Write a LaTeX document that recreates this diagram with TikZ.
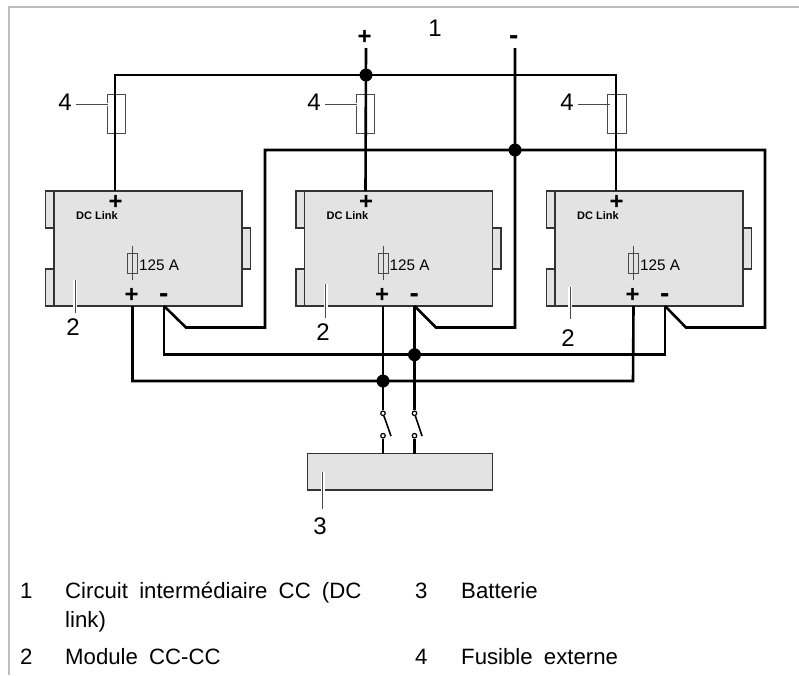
\documentclass[tikz,border=0pt]{standalone}
\usepackage{fontspec}
\setmainfont{Liberation Sans}
\definecolor{boxfill}{HTML}{E3E3E3}
\definecolor{boxline}{HTML}{333333}
\definecolor{framegray}{HTML}{BDBDBD}
\definecolor{leadgray}{HTML}{4A4A4A}
\tikzset{
  wire/.style={line width=2.6pt,black,line join=miter},
  boxpart/.style={draw=boxline,fill=boxfill,line width=1.2pt},
  fusebox/.style={draw=leadgray,line width=1pt},
  dotnode/.style={circle,fill=black,inner sep=0pt,minimum size=13pt},
  term/.style={circle,draw=black,fill=white,line width=1.2pt,inner sep=0pt,minimum size=4.5pt},
  halo/.style={white,line width=4pt},
  leader/.style={leadgray,line width=1pt},
  sign/.style={font=\fontsize{24}{24}\selectfont\bfseries,inner sep=0pt},
  minussign/.style={font=\fontsize{28}{28}\selectfont\bfseries,inner sep=0pt,anchor=base},
  num/.style={font=\fontsize{24}{24}\selectfont,inner sep=0pt},
  leg/.style={font=\fontsize{22.2}{29}\selectfont,inner sep=0pt,anchor=base west,align=left},
  dclink/.style={font=\fontsize{11}{11}\selectfont\bfseries,inner sep=0pt},
  amp/.style={font=\fontsize{15.3}{15.3}\selectfont,inner sep=0pt,anchor=west}
}
\newcommand{\moduleblock}[2]{% x offset, name
  \begin{scope}[shift={(#1,0)}]
    \draw[boxpart] (45.5,191) rectangle (54,228);
    \draw[boxpart] (45.5,269) rectangle (54,306);
    \draw[boxpart] (242,228) rectangle (250.5,269);
    \draw[boxpart] (54,191) rectangle (242,306);
    \node[sign] (#2plustop) at (115.7,202) {+};
    \node[dclink] (#2dc) at (97,216) {DC Link};
    \draw[leadgray,line width=0.8pt] (132.5,246) -- (132.5,280);
    \draw[leadgray,line width=1pt] (127.5,253) rectangle (137.5,273);
    \node[amp] (#2amp) at (139,265) {125 A};
    \node[sign] (#2plus) at (131.7,295.5) {+};
    \node[minussign] (#2minus) at (163.7,302) {-};
    \coordinate (#2a) at (115,191);
    \coordinate (#2b) at (132.5,306);
    \coordinate (#2c) at (164,306);
  \end{scope}}
\begin{document}
\begin{tikzpicture}[x=1pt,y=-1pt]
\useasboundingbox (0,0) rectangle (799,675);
\draw[framegray,line width=1.2pt] (9,675) -- (9,7) -- (799,7);
% modules and battery
\moduleblock{0}{ma}
\moduleblock{250.5}{mb}
\moduleblock{501}{mc}
\node[boxpart,minimum width=185pt,minimum height=36.5pt,inner sep=0pt] (batt) at (399.7,471.7) {};
% fuses
\foreach \n/\x in {fa/106.5,fb/355.5,fc/607}{
  \node[fusebox,minimum width=18.5pt,minimum height=39.5pt,inner sep=0pt,anchor=north west] (\n) at (\x,93.5) {};
}
% junctions
\coordinate (ptop) at (366,48);
\coordinate (mtop) at (515,48);
% + DC link
\draw[wire] (maa) -- (115,75) -- (616,75) -- (mca);
\draw[wire] (ptop) -- (mba);
% - DC link
\draw[wire] (mtop) -- (515,327.5) -- (436,327.5) -- (mbc);
\draw[wire] (mac) -- (186,327.5) -- (265,327.5) -- (265,150) -- (765,150) -- (765,327.5) -- (686,327.5) -- (mcc);
% buses
\draw[wire] (mac) -- (164,354.7) -- (665,354.7) -- (mcc);
\draw[wire] (mab) -- (132.5,381) -- (633,381) -- (mcb);
% switches
\node[term] (s1t) at (383,413.3) {};
\node[term] (s1b) at (383,435.7) {};
\node[term] (s2t) at (414.5,413.3) {};
\node[term] (s2b) at (414.5,435.7) {};
\draw[wire] (mbb) -- (s1t);
\draw[wire] (mbc) -- (s2t);
\draw[wire] (s1b) -- (383,453.5);
\draw[wire] (s2b) -- (414.5,453.5);
\draw[black,line width=1.6pt] (s1t) -- (391,436);
\draw[black,line width=1.6pt] (s2t) -- (422,436);
\node[dotnode] (dplus) at (366,75) {};
\node[dotnode] (dminus) at (515,150) {};
\node[dotnode] (dm) at (414.5,354.7) {};
\node[dotnode] (dp) at (383,381) {};
% signs on top
\node[sign] (sp) at (364.7,37) {+};
\node[minussign] (sm) at (513.7,44) {-};
% numbers
\node[num] (n1) at (435,28) {1};
\foreach \n/\x/\xb in {a/65/108,b/314/357,c/567/610}{
  \node[num] (four\n) at (\x,102) {4};
  \draw[halo,line width=3pt] (\xb-2,104) -- (\xb+1,104);
  \draw[leader] (\x+11,104) -- (\xb,104);
}
\foreach \n/\x/\ya/\yb/\nx/\ny in {a/75/280/313/73/327,b/325.7/284/318/323/332,c/570.3/287/319/568/338}{
  \draw[halo] (\x,\ya) -- (\x,307);
  \node[num] (two\n) at (\nx,\ny) {2};
  \draw[leader] (\x,\ya) -- (\x,\yb);
}
\draw[halo] (322.5,472) -- (322.5,491);
\node[num] (three) at (320,526) {3};
\draw[leader] (322.5,472) -- (322.5,509);
% legend
\node[leg] (l1) at (20,598) {1};
\node[leg] (l1t) at (65,627) {Circuit\hspace{5pt} intermédiaire\hspace{5pt} CC\hspace{5pt} (DC\\link)};
\node[leg] (l3) at (415,598) {3};
\node[leg] (l3t) at (461,598) {Batterie};
\node[leg] (l2) at (20,664) {2};
\node[leg] (l2t) at (65,664) {Module\hspace{5pt} CC-CC};
\node[leg] (l4) at (415,664) {4};
\node[leg] (l4t) at (461,664) {Fusible\hspace{5pt} externe};
\end{tikzpicture}
\end{document}
